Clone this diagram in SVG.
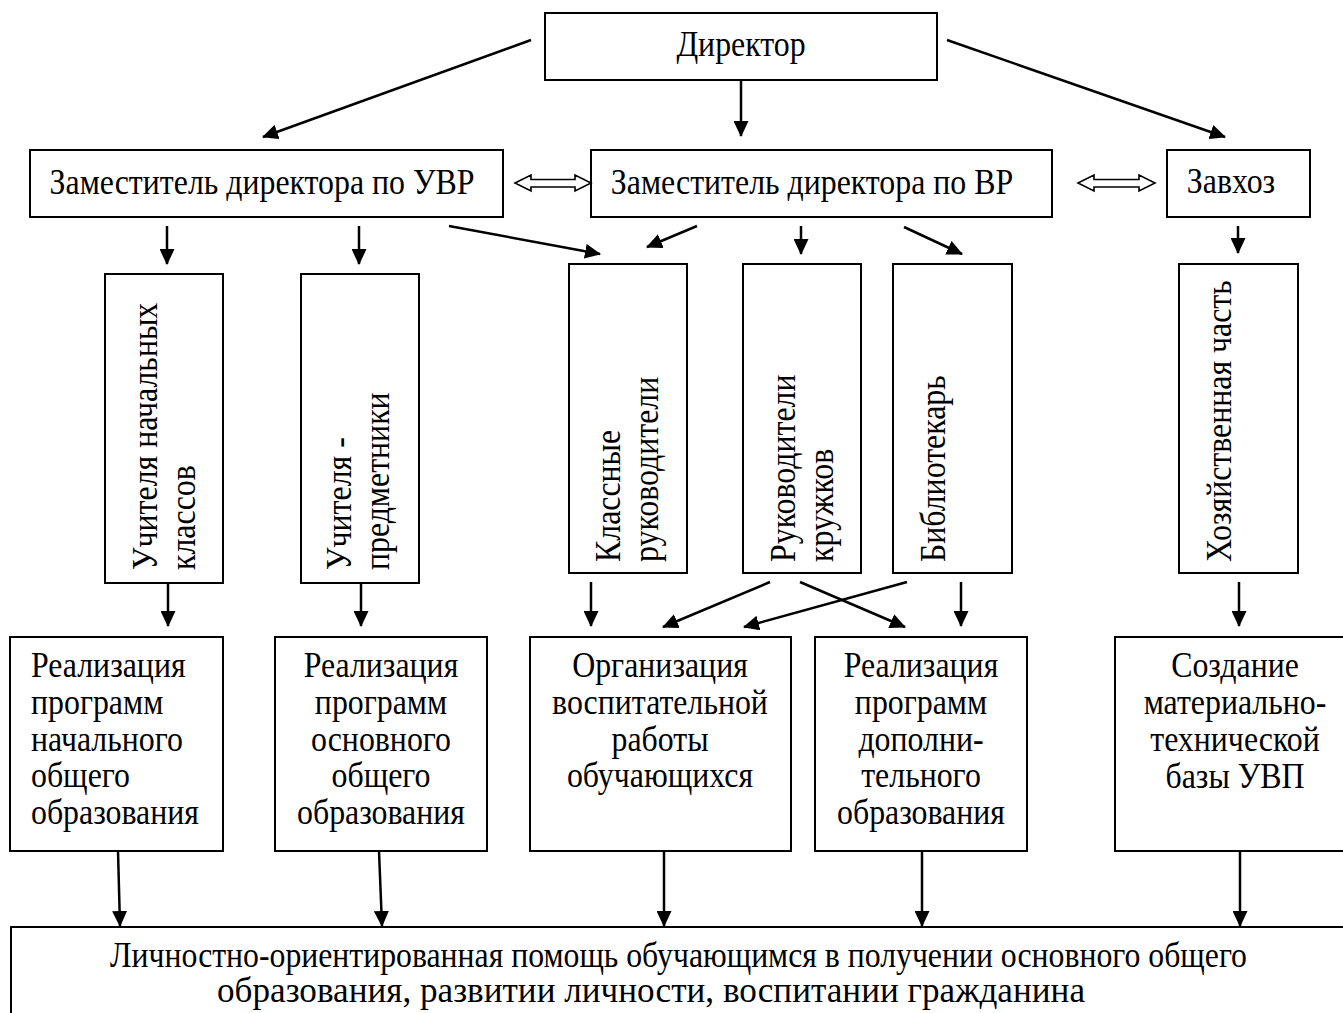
<svg xmlns="http://www.w3.org/2000/svg" width="1343" height="1013" viewBox="0 0 1343 1013">
<defs>
<marker id="ah" markerWidth="16" markerHeight="15" refX="15" refY="7.5" orient="auto" markerUnits="userSpaceOnUse"><path d="M0,0 L16,7.5 L0,15 Z" fill="#000"/></marker>
<style>
.box{fill:#fff;stroke:#000;stroke-width:2}
.t{font-family:"Liberation Serif","Times New Roman",serif;font-size:35px;fill:#000}
.c{text-anchor:middle}
.ar{stroke:#000;stroke-width:2.5;fill:none;marker-end:url(#ah)}
.dbl{fill:#fff;stroke:#000;stroke-width:1.6;stroke-linejoin:miter}
</style>
</defs>
<rect width="1343" height="1013" fill="#fff"/>

<g id="n-director"><rect class="box" x="545" y="13" width="392" height="67"/><text class="t c" transform="translate(741,56) scale(0.91,1)">Директор</text></g>
<g id="n-uvr"><rect class="box" x="30" y="150" width="473" height="67"/><text class="t c" transform="translate(262,194) scale(0.91,1)">Заместитель директора по УВР</text></g>
<g id="n-vr"><rect class="box" x="591" y="150" width="461" height="67"/><text class="t c" transform="translate(812,194) scale(0.91,1)">Заместитель директора по ВР</text></g>
<g id="n-zavhoz"><rect class="box" x="1167" y="150" width="143" height="67"/><text class="t c" transform="translate(1231,193) scale(0.91,1)">Завхоз</text></g>

<g id="n-uch-nach"><rect class="box" x="105" y="274" width="118" height="309"/><text class="t" transform="translate(157,570) rotate(-90) scale(0.91,1)"><tspan x="0" y="0">Учителя начальных</tspan><tspan x="0" y="38">классов</tspan></text></g>
<g id="n-uch-pred"><rect class="box" x="301" y="274" width="118" height="309"/><text class="t" transform="translate(351,570) rotate(-90) scale(0.91,1)"><tspan x="0" y="0">Учителя -</tspan><tspan x="0" y="38">предметники</tspan></text></g>
<g id="n-klass"><rect class="box" x="569" y="264" width="118" height="309"/><text class="t" transform="translate(620,562) rotate(-90) scale(0.91,1)"><tspan x="0" y="0">Классные</tspan><tspan x="0" y="38">руководители</tspan></text></g>
<g id="n-kruzh"><rect class="box" x="743" y="264" width="118" height="309"/><text class="t" transform="translate(795,562) rotate(-90) scale(0.91,1)"><tspan x="0" y="0">Руководители</tspan><tspan x="0" y="38">кружков</tspan></text></g>
<g id="n-bibl"><rect class="box" x="893" y="264" width="119" height="309"/><text class="t" transform="translate(945,562) rotate(-90) scale(0.91,1)">Библиотекарь</text></g>
<g id="n-hoz"><rect class="box" x="1179" y="264" width="119" height="309"/><text class="t" transform="translate(1231,562) rotate(-90) scale(0.91,1)">Хозяйственная часть</text></g>

<g id="n-real1"><rect class="box" x="10" y="637" width="213" height="214"/><text class="t" transform="translate(31,677) scale(0.91,1)"><tspan x="0" y="0">Реализация</tspan><tspan x="0" y="37">программ</tspan><tspan x="0" y="74">начального</tspan><tspan x="0" y="110">общего</tspan><tspan x="0" y="147">образования</tspan></text></g>
<g id="n-real2"><rect class="box" x="275" y="637" width="212" height="214"/><text class="t c" transform="translate(381,677) scale(0.91,1)"><tspan x="0" y="0">Реализация</tspan><tspan x="0" y="37">программ</tspan><tspan x="0" y="74">основного</tspan><tspan x="0" y="110">общего</tspan><tspan x="0" y="147">образования</tspan></text></g>
<g id="n-org"><rect class="box" x="530" y="637" width="261" height="214"/><text class="t c" transform="translate(660,677) scale(0.91,1)"><tspan x="0" y="0">Организация</tspan><tspan x="0" y="37">воспитательной</tspan><tspan x="0" y="74">работы</tspan><tspan x="0" y="110">обучающихся</tspan></text></g>
<g id="n-dop"><rect class="box" x="815" y="637" width="212" height="214"/><text class="t c" transform="translate(921,677) scale(0.91,1)"><tspan x="0" y="0">Реализация</tspan><tspan x="0" y="37">программ</tspan><tspan x="0" y="74">дополни-</tspan><tspan x="0" y="110">тельного</tspan><tspan x="0" y="147">образования</tspan></text></g>
<g id="n-sozd"><rect class="box" x="1115" y="637" width="245" height="214"/><text class="t c" transform="translate(1235,677) scale(0.91,1)"><tspan x="0" y="0">Создание</tspan><tspan x="0" y="37">материально-</tspan><tspan x="0" y="74">технической</tspan><tspan x="0" y="111">базы УВП</tspan></text></g>

<g id="n-result"><rect class="box" x="11" y="927" width="1350" height="100"/><text class="t" x="110" y="967" textLength="1137" lengthAdjust="spacingAndGlyphs">Личностно-ориентированная помощь обучающимся в получении основного общего</text><text class="t" x="217" y="1002" textLength="868" lengthAdjust="spacingAndGlyphs">образования, развитии личности, воспитании гражданина</text></g>

<g id="connectors">
<line class="ar" x1="531" y1="40" x2="263" y2="137"/>
<line class="ar" x1="741" y1="80" x2="741" y2="136"/>
<line class="ar" x1="947" y1="40" x2="1225" y2="137"/>
<path class="dbl" d="M515,183 L531,175 L531,179.5 L575,179.5 L575,175 L591,183 L575,191 L575,187 L531,187 L531,191 Z"/>
<path class="dbl" d="M1078,183 L1094,175 L1094,179.5 L1139,179.5 L1139,175 L1155,183 L1139,191 L1139,187 L1094,187 L1094,191 Z"/>
<line class="ar" x1="167" y1="226" x2="167" y2="264"/>
<line class="ar" x1="359" y1="226" x2="359" y2="264"/>
<line class="ar" x1="449" y1="226" x2="600" y2="254"/>
<line class="ar" x1="697" y1="226" x2="647" y2="247"/>
<line class="ar" x1="801" y1="226" x2="801" y2="254"/>
<line class="ar" x1="904" y1="227" x2="962" y2="254"/>
<line class="ar" x1="1238" y1="226" x2="1238" y2="253"/>
<line class="ar" x1="168" y1="583" x2="168" y2="626"/>
<line class="ar" x1="361" y1="583" x2="361" y2="626"/>
<line class="ar" x1="591" y1="582" x2="591" y2="626"/>
<line class="ar" x1="770" y1="582" x2="663" y2="627"/>
<line class="ar" x1="800" y1="582" x2="905" y2="627"/>
<line class="ar" x1="907" y1="582" x2="744" y2="627"/>
<line class="ar" x1="961" y1="582" x2="961" y2="626"/>
<line class="ar" x1="1239" y1="582" x2="1239" y2="626"/>
<line class="ar" x1="118" y1="851" x2="120" y2="926"/>
<line class="ar" x1="379" y1="851" x2="382" y2="926"/>
<line class="ar" x1="664" y1="851" x2="664" y2="926"/>
<line class="ar" x1="922" y1="851" x2="922" y2="926"/>
<line class="ar" x1="1240" y1="851" x2="1240" y2="926"/>
</g>
</svg>
